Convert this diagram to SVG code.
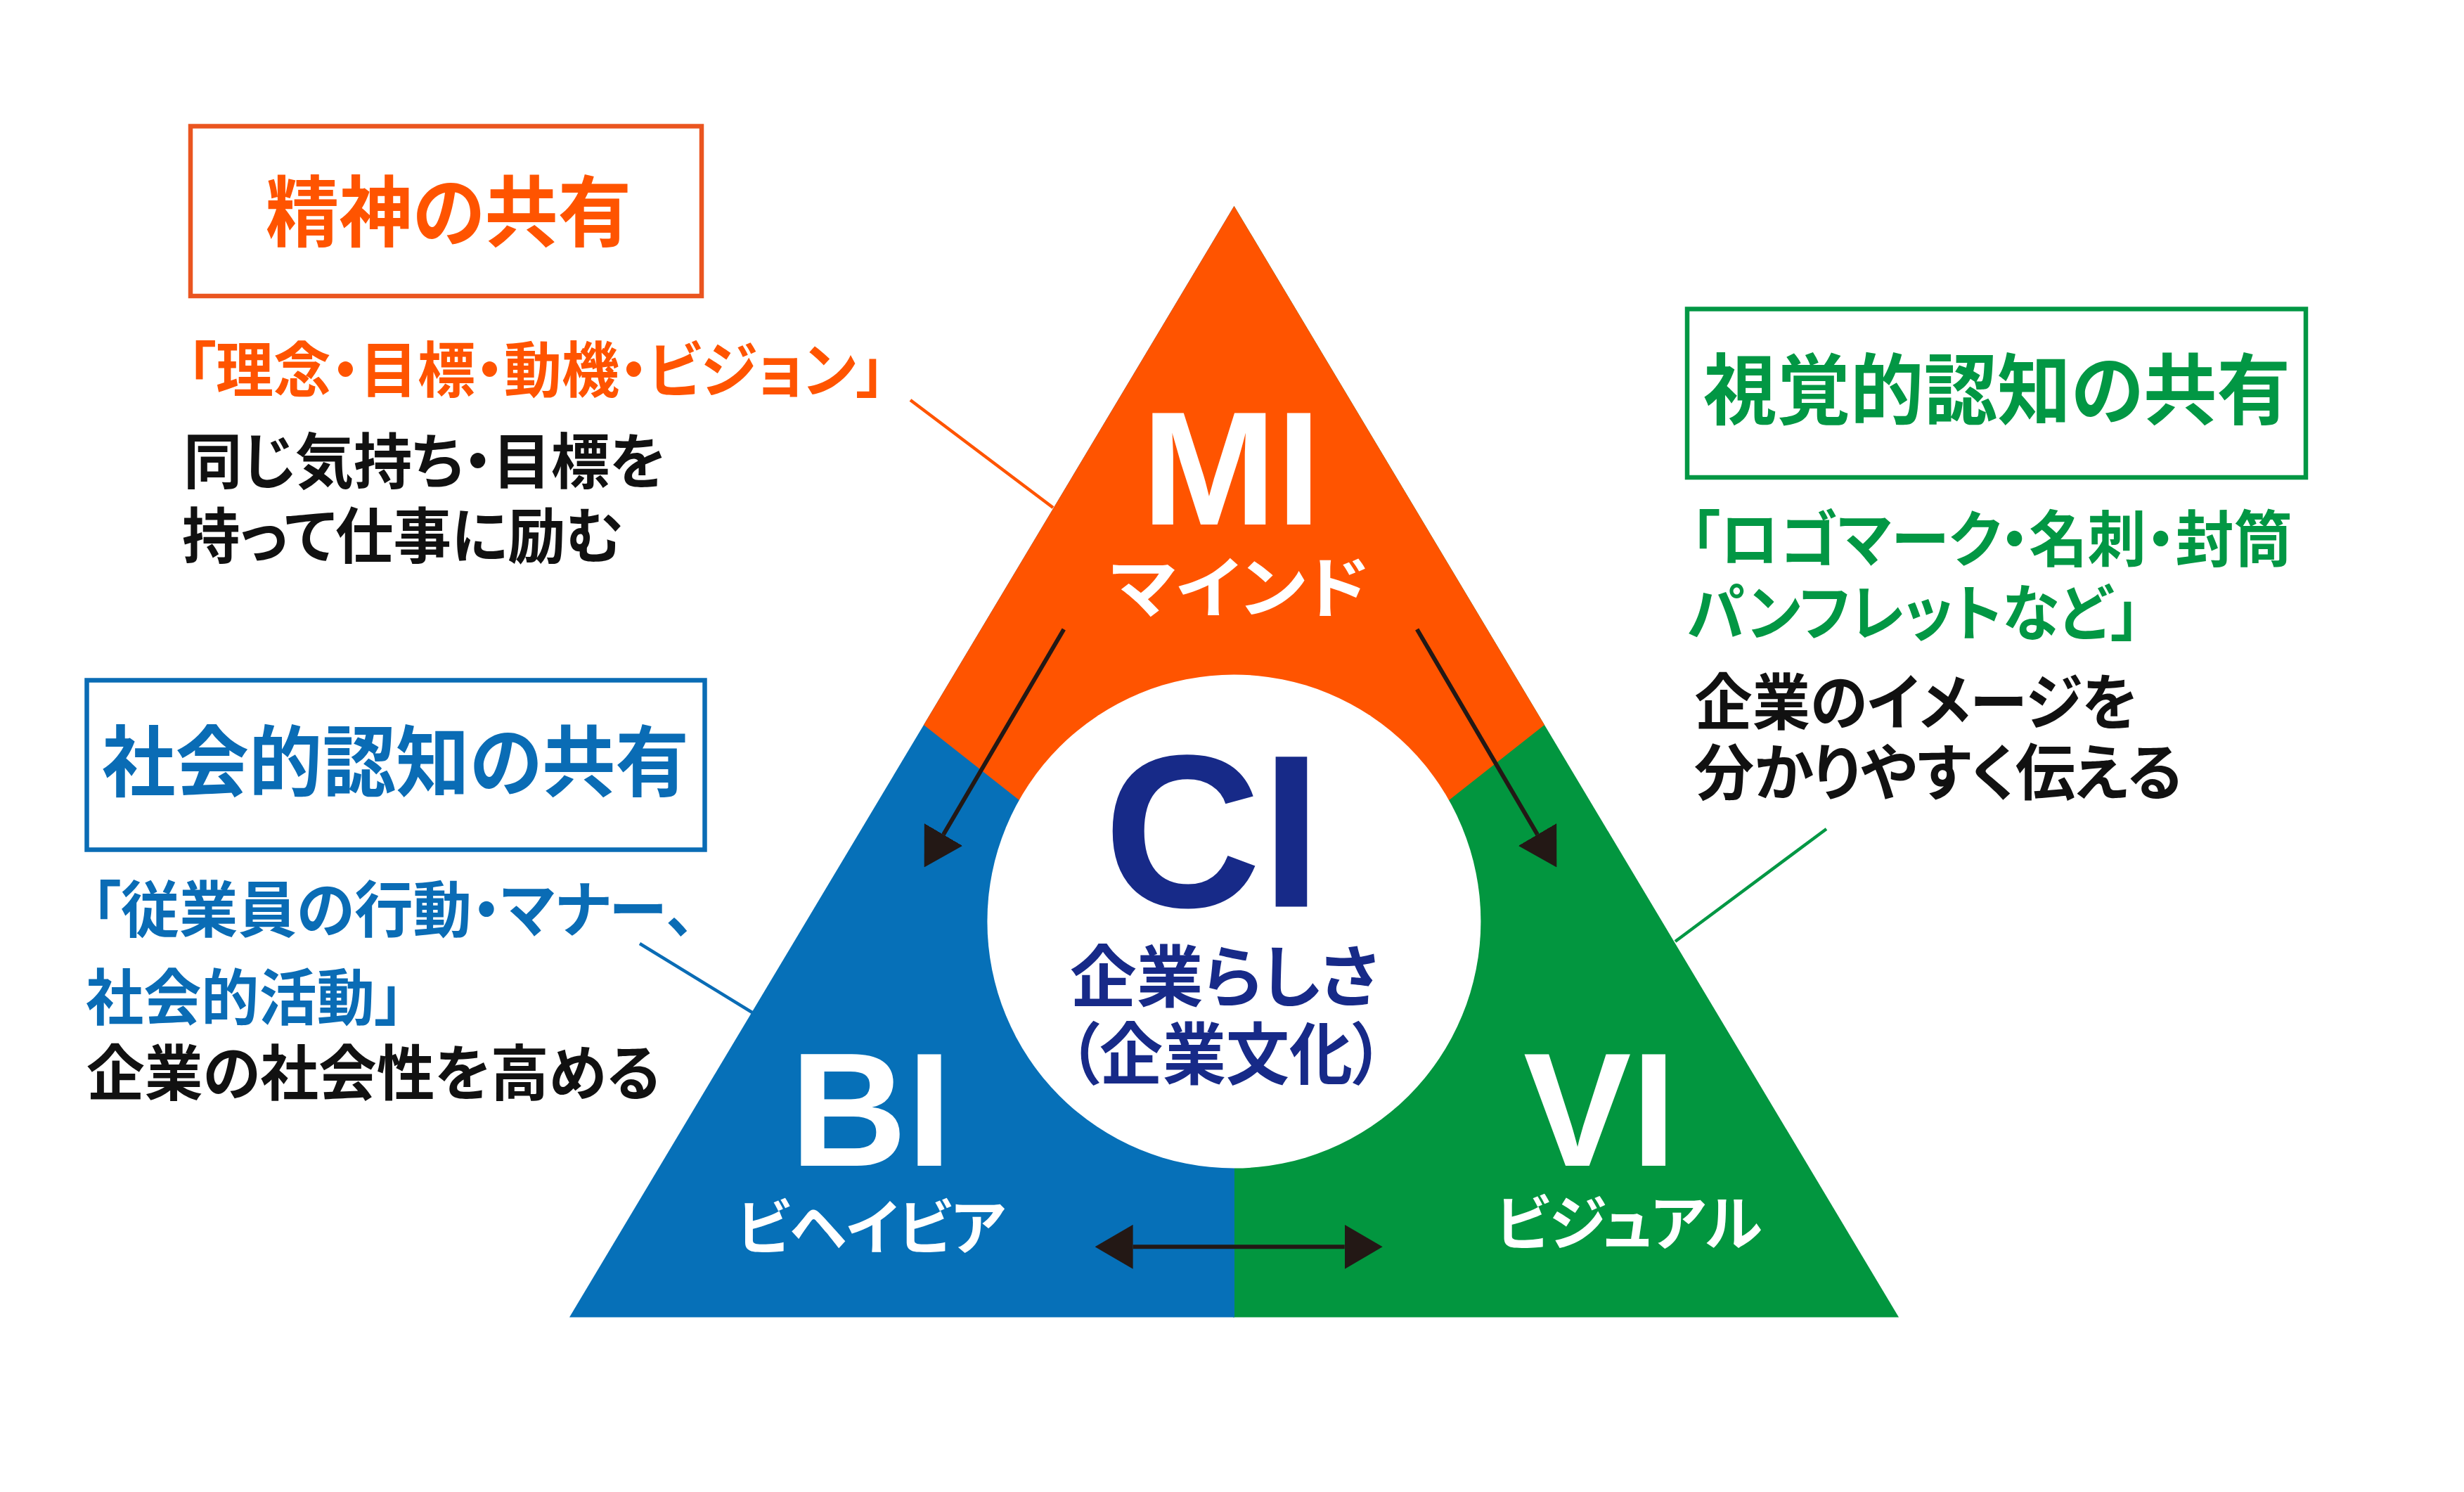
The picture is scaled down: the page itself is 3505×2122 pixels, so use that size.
<svg xmlns="http://www.w3.org/2000/svg" width="3505" height="2122" viewBox="0 0 3505 2122">
<style>
.jp{font-family:"Liberation Sans","Noto Sans CJK JP",sans-serif;font-weight:700;font-feature-settings:"palt" 1;}
.lat{font-family:"Liberation Sans",Arial,sans-serif;font-weight:700;}
.org{fill:#FF5400;}
.blu{fill:#0A6CB5;}
.grn{fill:#029744;}
.blk{fill:#111111;}
.wht{fill:#FFFFFF;}
.navy{fill:#172A88;}
.t110{font-size:110px;}
.t86{font-size:86px;}
.t87{font-size:87px;}
.box{fill:none;stroke-width:6.5;}
.lead{fill:none;stroke-width:4.5;}
.arr{fill:none;stroke:#231815;stroke-width:6;}
</style>
<defs>
<marker id="ah" markerUnits="userSpaceOnUse" viewBox="0 0 54 63" markerWidth="54" markerHeight="63" refX="0" refY="31.5" orient="auto-start-reverse">
<path d="M0,0 L54,31.5 L0,63 Z" fill="#231815"/>
</marker>
</defs>
<rect width="3505" height="2122" fill="#FFFFFF"/>

<g id="triangle">
<polygon points="1755.5,293 2701,1873.5 1754,1873.5" fill="#02963F"/>
<polygon points="1755.5,293 810,1873.5 1756,1873.5" fill="#0670B8"/>
<polygon points="1755.5,293 1314,1031 1755.5,1379 2197,1031" fill="#FF5400"/>
</g>

<g id="node-ci">
<circle cx="1755.4" cy="1310.5" r="351" fill="#FFFFFF"/>
<text class="lat navy" x="1570" y="1289.6" font-size="310">CI</text>
<text class="jp navy" x="1522" y="1424" font-size="96" textLength="439" lengthAdjust="spacingAndGlyphs">企業らしさ</text>
<text class="jp navy" x="1519" y="1534" font-size="96" textLength="450" lengthAdjust="spacingAndGlyphs">（企業文化）</text>
</g>

<g id="node-mi">
<text class="lat wht" x="1624" y="745.7" font-size="230">MI</text>
<text class="jp wht" x="1579" y="871" font-size="95" textLength="368" lengthAdjust="spacingAndGlyphs">マインド</text>
</g>

<g id="node-bi">
<text class="lat wht" x="1124" y="1658.3" font-size="230">BI</text>
<text class="jp wht" x="1048" y="1777" font-size="85" textLength="382" lengthAdjust="spacingAndGlyphs">ビヘイビア</text>
</g>

<g id="node-vi">
<text class="lat wht" x="2167" y="1658.3" font-size="230">VI</text>
<text class="jp wht" x="2127.5" y="1771" font-size="85" textLength="379" lengthAdjust="spacingAndGlyphs">ビジュアル</text>
</g>

<g id="label-mind">
<rect class="box" x="271" y="179.5" width="727" height="241.5" stroke="#EA5520"/>
<text class="jp org t110" x="378" y="342" textLength="520" lengthAdjust="spacingAndGlyphs">精神の共有</text>
<text class="jp org t86" x="266" y="558" textLength="993" lengthAdjust="spacingAndGlyphs">「理念・目標・動機・ビジョン」</text>
<text class="jp blk t86" x="261" y="688" textLength="686" lengthAdjust="spacingAndGlyphs">同じ気持ち・目標を</text>
<text class="jp blk t86" x="259" y="794" textLength="628" lengthAdjust="spacingAndGlyphs">持って仕事に励む</text>
</g>

<g id="label-social">
<rect class="box" x="123.5" y="967.5" width="879" height="241" stroke="#0A6CB5"/>
<text class="jp blu t110" x="145" y="1124" textLength="835" lengthAdjust="spacingAndGlyphs">社会的認知の共有</text>
<text class="jp blu t87" x="130" y="1326" textLength="859" lengthAdjust="spacingAndGlyphs">「従業員の行動・マナー、</text>
<text class="jp blu t87" x="122" y="1451" textLength="452" lengthAdjust="spacingAndGlyphs">社会的活動」</text>
<text class="jp blk t86" x="123" y="1558" textLength="816" lengthAdjust="spacingAndGlyphs">企業の社会性を高める</text>
</g>

<g id="label-visual">
<rect class="box" x="2400" y="439.5" width="880" height="239.5" stroke="#029744"/>
<text class="jp grn t110" x="2423" y="595" textLength="835" lengthAdjust="spacingAndGlyphs">視覚的認知の共有</text>
<text class="jp grn t87" x="2405" y="798.5" textLength="856" lengthAdjust="spacingAndGlyphs">「ロゴマーク・名刺・封筒</text>
<text class="jp grn t87" x="2400" y="904" textLength="644" lengthAdjust="spacingAndGlyphs">パンフレットなど」</text>
<text class="jp blk t87" x="2410.5" y="1030.5" textLength="630" lengthAdjust="spacingAndGlyphs">企業のイメージを</text>
<text class="jp blk t87" x="2410" y="1131" textLength="694" lengthAdjust="spacingAndGlyphs">分かりやすく伝える</text>
</g>

<g id="connectors">
<line class="lead" x1="1295" y1="569" x2="1498" y2="722" stroke="#FF5400"/>
<line class="lead" x1="910" y1="1342" x2="1070" y2="1440" stroke="#0A6CB5"/>
<line class="lead" x1="2598" y1="1179" x2="2383" y2="1339" stroke="#029744"/>
<line class="arr" x1="1513.3" y1="895" x2="1342" y2="1187" marker-end="url(#ah)"/>
<line class="arr" x1="2015.7" y1="895" x2="2187" y2="1187" marker-end="url(#ah)"/>
<line class="arr" x1="1611.6" y1="1773.3" x2="1912.7" y2="1773.3" stroke-width="6.7" marker-start="url(#ah)" marker-end="url(#ah)"/>
</g>
</svg>
